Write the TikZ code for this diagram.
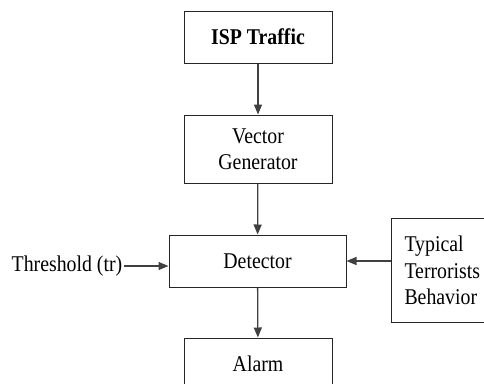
\documentclass[tikz,border=0pt]{standalone}
\usepackage{fontspec}
\setmainfont{Liberation Serif}[FakeStretch=0.88]
\usetikzlibrary{arrows.meta}

\begin{document}
\begin{tikzpicture}[x=1pt,y=-1pt,
  blk/.style={draw=black!85,line width=1pt,minimum width=148pt,minimum height=52pt,inner sep=0pt,
    font=\fontsize{22.5}{26.5}\selectfont},
  arr/.style={draw=black!75,line width=1.3pt,-{Triangle[length=10pt,width=8pt]}}]
\useasboundingbox (0,0) rectangle (484,383);
\node[blk,font=\fontsize{22.5}{26.5}\selectfont\bfseries] (isp) at (258,37) {ISP Traffic};
\node[blk,minimum height=68pt,align=center] (vec) at (258,149) {Vector\\Generator};
\node[blk,minimum width=177pt] (det) at (257.5,261) {Detector};
\node[blk] (alarm) at (258,364) {Alarm};
\node[font=\fontsize{22.5}{26.5}\selectfont,inner sep=2pt] (thr) at (67,266) {Threshold (tr)};
\node[blk,anchor=north west,minimum width=0pt,minimum height=104pt,text width=90pt,align=left,
  inner xsep=13pt] (typ) at (391,218) {Typical\\Terrorists\\Behavior};
\draw[arr] (isp) -- (vec);
\draw[arr] (vec) -- (det);
\draw[arr] (det) -- (alarm);
\draw[arr] (thr.east) -- (thr.east -| det.west);
\draw[arr] (typ.west |- det.east) -- (det.east);
\end{tikzpicture}
\end{document}
